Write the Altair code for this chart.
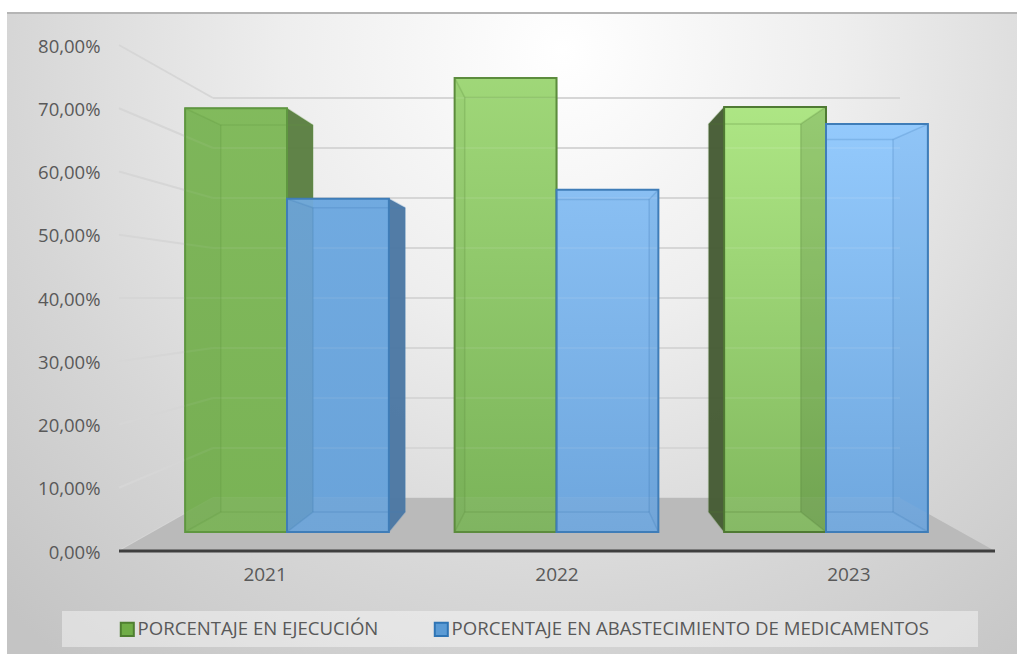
import altair as alt
import pandas as pd

# Chart values (percent)
years = [2021, 2022, 2023]
series_names = ["PORCENTAJE EN EJECUCIÓN", "PORCENTAJE EN ABASTECIMIENTO DE MEDICAMENTOS"]
ejecucion = [70.0, 74.8, 70.2]
abastecimiento = [55.7, 57.1, 67.5]
ticks = [0, 10, 20, 30, 40, 50, 60, 70, 80]

# Face colours per bar: gradient top, gradient bottom, outline, outer side, inner side tint
green_faces = [
    ("#83bb5e", "#7ab356", "#5f9740", "#5b7f42", 0.03),
    ("#a3da7c", "#7bb45a", "#5c8c3d", "#5b7f42", 0.03),
    ("#b2ea89", "#82b95f", "#4f7a33", "#465c35", 0.16),
]
blue_faces = [
    ("#72abe1", "#6ba4da", "#3f7db8", "#4c78a3", 0.05),
    ("#8dc2f5", "#6fa7de", "#3f7db8", "#4c78a3", 0.03),
    ("#98cdff", "#70a8df", "#3f7db8", "#4c78a3", 0.03),
]

W, H = 1017, 654
FONT = "Open Sans"
TEXT = "#595959"
GRID = "#d6d6d6"

# Scale calibration: category spacing and percent-to-pixel ratio of the value axis
X_ORIGIN, X_STEP = 287.0, 269.5
Y_ORIGIN, Y_STEP = 551.0, 6.325


def pos(px):
    return (px - X_ORIGIN) / X_STEP


def val(py):
    return (Y_ORIGIN - py) / Y_STEP


# Perspective of the box: the rear plane shrinks toward a vanishing point
DEPTH_X, DEPTH_Y = 0.905, 0.913
VANISH_X, VANISH_Y = pos(561.0), val(302.0)
BAR_W = 0.378
BASE = 3.0


def back_x(x):
    return VANISH_X + (x - VANISH_X) * DEPTH_X


def back_y(v):
    return VANISH_Y + (v - VANISH_Y) * DEPTH_Y


x_scale = alt.Scale(domain=[pos(0), pos(W)], nice=False, zero=False)
y_scale = alt.Scale(domain=[val(H), val(0)], nice=False, zero=False)


def X(field="x", axis=None):
    return alt.X(f"{field}:Q", scale=x_scale, axis=axis, title=None)


def Y(field="y", axis=None):
    return alt.Y(f"{field}:Q", scale=y_scale, axis=axis, title=None, stack=None)


layers = []

# Axes: category labels follow the wider spacing of the near edge of the floor
NEAR_SPREAD = 1.083
tick_positions = [1 + (i - 1) * NEAR_SPREAD for i in range(len(years))]
axis_x = alt.Axis(
    values=tick_positions, orient="bottom", offset=-89, domain=False, ticks=False, grid=False,
    labelExpr=f"2022 + round((datum.value - 1) / {NEAR_SPREAD})",
    labelFont=FONT, labelFontSize=19, labelColor=TEXT, labelPadding=0, zindex=1,
)
axis_y = alt.Axis(
    values=ticks, orient="left", offset=-100, domain=False, ticks=False, grid=False,
    labelExpr="replace(format(datum.value, '.2f'), '.', ',') + '%'",
    labelFont=FONT, labelFontSize=18.5, labelColor=TEXT, labelPadding=0, labelOffset=1, zindex=1,
)
axis_host = pd.DataFrame({"x": [pos(0)], "y": [0.0]})
layers.append(
    alt.Chart(axis_host).mark_point(opacity=0).encode(x=X("x", axis_x), y=Y("y", axis_y))
)

# Panel background
panel_fill = alt.Gradient(
    gradient="radial", x1=0.55, y1=0.22, r1=0.0, x2=0.55, y2=0.22, r2=0.78,
    stops=[
        alt.GradientStop(color="#ffffff", offset=0),
        alt.GradientStop(color="#eeeeee", offset=0.35),
        alt.GradientStop(color="#d6d6d6", offset=0.7),
        alt.GradientStop(color="#c4c4c4", offset=1),
    ],
)
anchor = pd.DataFrame({"a": [0]})
layers.append(
    alt.Chart(anchor).mark_rect(fill=panel_fill).encode(
        x=alt.value(7), x2=alt.value(W), y=alt.value(13), y2=alt.value(H)
    )
)
layers.append(
    alt.Chart(anchor).mark_rule(color="#b5b5b5", strokeWidth=2).encode(
        x=alt.value(7), x2=alt.value(W), y=alt.value(13)
    )
)
# Legend band, painted beneath the legend entries
layers.append(
    alt.Chart(anchor).mark_rect(fill="#ffffff", fillOpacity=0.42).encode(
        x=alt.value(62), x2=alt.value(978), y=alt.value(611), y2=alt.value(647)
    )
)

# Bar table, also carrying the legend through its fill and stroke channels
rows = []
for i, year in enumerate(years):
    rows.append(dict(year=year, serie=series_names[0], x=i - BAR_W, x2=float(i), top=ejecucion[i], faces=green_faces[i]))
    rows.append(dict(year=year, serie=series_names[1], x=float(i), x2=i + BAR_W, top=abastecimiento[i], faces=blue_faces[i]))
bars = pd.DataFrame(rows)
bars["base"] = BASE

legend = alt.Legend(
    orient="none", legendX=118, legendY=620, columns=2, title=None, padding=0,
    symbolType="square", symbolSize=170, symbolStrokeWidth=2, symbolOpacity=1,
    labelFont=FONT, labelFontSize=18.6, labelColor=TEXT, labelLimit=800,
    labelOffset=1, columnPadding=51,
)
series_color = alt.Color(
    "serie:N", legend=legend,
    scale=alt.Scale(domain=series_names, range=["#70ad47", "#5b9bd5"]),
)
series_stroke = alt.Stroke(
    "serie:N", legend=legend,
    scale=alt.Scale(domain=series_names, range=["#4f7f31", "#2f75b5"]),
)
layers.append(
    alt.Chart(bars[["serie", "x", "x2", "top", "base"]]).mark_rect().encode(
        x=X("x"), x2=alt.X2("x2"), y=Y("base"), y2=alt.Y2("top"),
        fill=series_color, stroke=series_stroke,
    )
)

# Rear wall and left wall grid
wall_step = (val(448) - val(498))
wall_base = val(498)
wall_left, wall_right = pos(213), pos(900)
axis_left = pos(119)
axis_right = pos(995)

rear = pd.DataFrame({"tick": ticks})
rear["y"] = [wall_base + t / 10 * wall_step for t in ticks]
rear["x"] = wall_left
rear["x2"] = wall_right
layers.append(
    alt.Chart(rear).mark_rule(color=GRID, strokeWidth=2).encode(
        x=X("x"), x2=alt.X2("x2"), y=Y("y")
    )
)
left = pd.DataFrame(
    [dict(tick=t, x=axis_left, y=float(t)) for t in ticks]
    + [dict(tick=t, x=wall_left, y=wall_base + t / 10 * wall_step) for t in ticks]
)
layers.append(
    alt.Chart(left).mark_line(color=GRID, strokeWidth=2).encode(
        x=X("x"), y=Y("y"), detail="tick:N"
    )
)

# Floor
floor = pd.DataFrame({
    "x": [axis_left, wall_left, wall_right, axis_right],
    "y": [0.0, wall_base, wall_base, 0.0],
    "y0": [0.0, 0.0, 0.0, 0.0],
})
layers.append(
    alt.Chart(floor).mark_area(color="#bababa").encode(
        x=X("x"), y=Y("y"), y2=alt.Y2("y0")
    )
)


def side_face(x_front, top, color, opacity):
    """Quadrilateral between a front vertical edge and its rear counterpart."""
    face = pd.DataFrame({
        "x": [x_front, back_x(x_front)],
        "y": [top, back_y(top)],
        "y0": [BASE, back_y(BASE)],
    })
    return alt.Chart(face).mark_area(color=color, opacity=opacity).encode(
        x=X("x"), y=Y("y"), y2=alt.Y2("y0")
    )


# Bars, painted from left to right so each one sits over its neighbour's side
for bar in bars.itertuples():
    top_color, bottom_color, line_color, side_color, tint = bar.faces
    left_edge, right_edge = bar.x, bar.x2
    is_green = bar.serie == series_names[0]
    shade = "#1e3d10" if is_green else "#123a66"

    # The shared edge of a blue bar is hidden behind its green neighbour
    left_hidden = not is_green and back_x(left_edge) < left_edge
    left_outer = is_green and back_x(left_edge) < left_edge
    right_outer = back_x(right_edge) > right_edge + 0.01
    if left_outer:
        layers.append(side_face(left_edge, bar.top, side_color, 0.97))
    if right_outer:
        layers.append(side_face(right_edge, bar.top, side_color, 0.97))

    front_fill = alt.Gradient(
        gradient="linear", x1=0, y1=0, x2=0, y2=1,
        stops=[
            alt.GradientStop(color=top_color, offset=0),
            alt.GradientStop(color=bottom_color, offset=1),
        ],
    )
    front = pd.DataFrame([dict(x=left_edge, x2=right_edge, y=bar.top, y2=BASE)])
    layers.append(
        alt.Chart(front).mark_rect(fill=front_fill, fillOpacity=0.93).encode(
            x=X("x"), x2=alt.X2("x2"), y=Y("y"), y2=alt.Y2("y2")
        )
    )
    if not left_outer and not left_hidden:
        layers.append(side_face(left_edge, bar.top, shade, tint))
    if not right_outer:
        layers.append(side_face(right_edge, bar.top, shade, tint))

    # Rear rectangle and receding corner edges
    bl, br, bt, bb = back_x(left_edge), back_x(right_edge), back_y(bar.top), back_y(BASE)
    seen_left = left_edge if left_hidden else bl
    segments = [
        dict(x=seen_left, x2=br, y=bt, y2=bt),
        dict(x=seen_left, x2=br, y=bb, y2=bb),
        dict(x=br, x2=br, y=bb, y2=bt),
        dict(x=right_edge, x2=br, y=bar.top, y2=bt),
        dict(x=right_edge, x2=br, y=BASE, y2=bb),
    ]
    if not left_hidden:
        segments += [
            dict(x=bl, x2=bl, y=bb, y2=bt),
            dict(x=left_edge, x2=bl, y=bar.top, y2=bt),
            dict(x=left_edge, x2=bl, y=BASE, y2=bb),
        ]
    edges = pd.DataFrame(segments)
    layers.append(
        alt.Chart(edges).mark_rule(color=line_color, strokeWidth=1.5, opacity=0.25).encode(
            x=X("x"), x2=alt.X2("x2"), y=Y("y"), y2=alt.Y2("y2")
        )
    )
    outline = pd.DataFrame([dict(x=left_edge, x2=right_edge, y=bar.top, y2=BASE)])
    layers.append(
        alt.Chart(outline).mark_rect(fillOpacity=0, stroke=line_color, strokeWidth=2).encode(
            x=X("x"), x2=alt.X2("x2"), y=Y("y"), y2=alt.Y2("y2")
        )
    )

# Category axis line
axis_line = pd.DataFrame([dict(x=axis_left, x2=axis_right, y=0.0)])
layers.append(
    alt.Chart(axis_line).mark_rule(color="#3f3f3f", strokeWidth=3).encode(
        x=X("x"), x2=alt.X2("x2"), y=Y("y")
    )
)

chart = (
    alt.layer(*layers)
    .resolve_axis(x="independent", y="independent")
    .resolve_scale(fill="independent", stroke="independent")
    .properties(
        width=W, height=H, padding=0,
        autosize=alt.AutoSizeParams(type="none"), background="white",
    )
    .configure_view(stroke=None)
)

chart.save("out.html", embed_options={"renderer": "svg", "actions": False})
